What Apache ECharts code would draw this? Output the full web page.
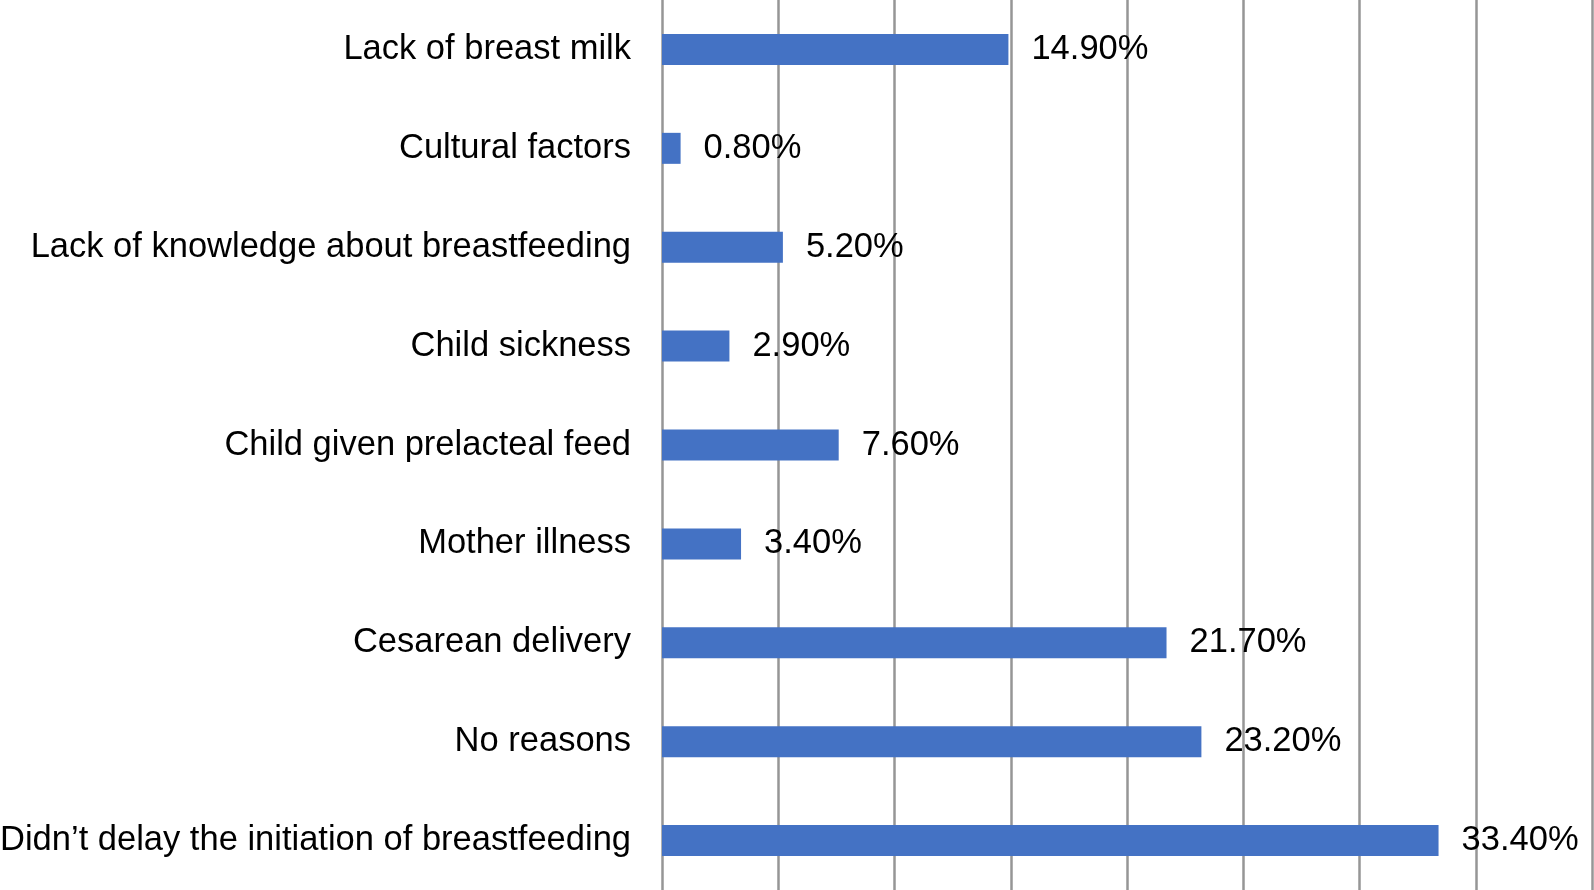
<!DOCTYPE html>
<html>
<head>
<meta charset="utf-8">
<script src="https://cdn.jsdelivr.net/npm/echarts@6/dist/echarts.min.js"></script>
<style>
  html, body { margin: 0; padding: 0; background: #fff; }
  #chart_div { width: 1594px; height: 890px; }
</style>
</head>
<body>
<div id="chart_div"></div>
<script>
// categories, top to bottom
var categories = [
  'Lack of breast milk',
  'Cultural factors',
  'Lack of knowledge about breastfeeding',
  'Child sickness',
  'Child given prelacteal feed',
  'Mother illness',
  'Cesarean delivery',
  'No reasons',
  'Didn\u2019t delay the initiation of breastfeeding'
]
// percentages
var values = [14.9, 0.8, 5.2, 2.9, 7.6, 3.4, 21.7, 23.2, 33.4]
// x axis range
var xMin = 0
var xMax = 40
var xStep = 5

var myChart = echarts.init(document.getElementById('chart_div'))

var option = {
  animation: false,
  backgroundColor: '#fff',
  textStyle: { fontFamily: 'Arial, "Liberation Sans", sans-serif' },
  grid: { left: 662, right: 2, top: 0, bottom: 0, containLabel: false, outerBoundsMode: 'none' },
  xAxis: {
    type: 'value',
    min: xMin,
    max: xMax,
    interval: xStep,
    axisLabel: { show: false },
    axisTick: { show: false },
    axisLine: { show: false },
    splitLine: { show: true, lineStyle: { color: '#969696', width: 2.5 } }
  },
  yAxis: {
    type: 'category',
    inverse: true,
    data: categories,
    axisLine: { show: false },
    axisTick: { show: false },
    axisLabel: {
      margin: 31,
      fontSize: 34.5,
      lineHeight: 38,
      padding: [7, 0, 0, 0],
      color: '#000',
      fontFamily: 'Arial, "Liberation Sans", sans-serif'
    }
  },
  series: [{
    type: 'bar',
    data: values,
    barWidth: 31,
    itemStyle: { color: '#4472C4' },
    label: {
      show: true,
      position: 'right',
      distance: 23,
      fontSize: 34.5,
      padding: [7, 0, 0, 0],
      color: '#000',
      fontFamily: 'Arial, "Liberation Sans", sans-serif',
      formatter: function (p) { return p.value.toFixed(2) + '%' }
    }
  }]
}

myChart.setOption(option)
</script>
</body>
</html>
